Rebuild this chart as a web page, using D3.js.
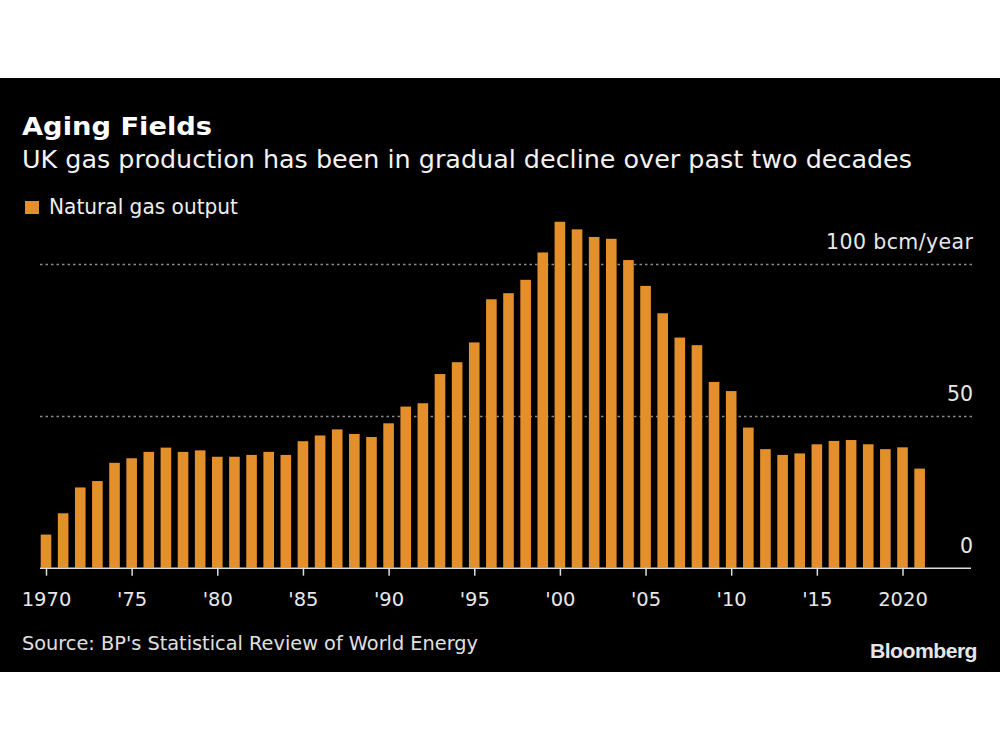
<!DOCTYPE html>
<html>
<head>
<meta charset="utf-8">
<script src="https://cdn.jsdelivr.net/npm/d3@7"></script>
<style>
  html, body { margin: 0; padding: 0; background: #fff; }
  svg { display: block; }
</style>
</head>
<body>
<svg id="chart" width="1000" height="750"></svg>
<script>
const years = d3.range(1970, 2022);
const gasOutput = [
  10.9, 17.9, 26.4, 28.5, 34.5, 36.0, 38.1, 39.5, 38.1, 38.6,
  36.5, 36.5, 37.1, 38.1, 37.1, 41.6, 43.5, 45.5, 44.0, 43.0,
  47.5, 53.0, 54.1, 63.7, 67.6, 74.1, 88.3, 90.3, 94.7, 103.7,
  113.8, 111.3, 108.8, 108.2, 101.2, 92.7, 83.7, 75.7, 73.2, 61.1,
  58.1, 46.1, 39.0, 37.1, 37.6, 40.6, 41.7, 42.0, 40.6, 39.0,
  39.6, 32.6
];
const xTickYears = [1970, 1975, 1980, 1985, 1990, 1995, 2000, 2005, 2010, 2015, 2020];
const xTickLabels = ["1970", "'75", "'80", "'85", "'90", "'95", "'00", "'05", "'10", "'15", "2020"];
const yTickValues = [0, 50, 100];
const yTickLabels = ["0", "50", "100 bcm/year"];

const FONT = "'DejaVu Sans', Verdana, sans-serif";
const BAR = "#e28f2c";

const svg = d3.select("#chart");
svg.append("rect").attr("x", 0).attr("y", 78).attr("width", 1000).attr("height", 594).attr("fill", "#000");

const step = 17.13;
const x = d3.scaleBand()
  .domain(years)
  .range([46 - step / 2, 46 - step / 2 + step * years.length])
  .paddingInner(0.38)
  .paddingOuter(0.19);
const y = d3.scaleLinear().domain([0, 100]).range([567.7, 263.7]);

// Title block
svg.append("text").attr("x", 22).attr("y", 135)
  .attr("font-family", FONT).attr("font-weight", "bold").attr("font-size", 25)
  .attr("fill", "#fff").attr("textLength", 190).attr("lengthAdjust", "spacingAndGlyphs")
  .text("Aging Fields");
svg.append("text").attr("x", 22).attr("y", 168)
  .attr("font-family", FONT).attr("font-size", 24.5)
  .attr("fill", "#f2f2f2").attr("textLength", 890).attr("lengthAdjust", "spacingAndGlyphs")
  .text("UK gas production has been in gradual decline over past two decades");

// Legend
svg.append("rect").attr("x", 25).attr("y", 201).attr("width", 14).attr("height", 13).attr("fill", BAR);
svg.append("text").attr("x", 49).attr("y", 214)
  .attr("font-family", FONT).attr("font-size", 20.5)
  .attr("fill", "#eee").attr("textLength", 189).attr("lengthAdjust", "spacingAndGlyphs")
  .text("Natural gas output");

// Gridlines
svg.append("g").selectAll("line")
  .data(yTickValues.filter(v => v > 0))
  .join("line")
  .attr("x1", 40).attr("x2", 972)
  .attr("y1", d => Math.round(y(d)) + 0.5).attr("y2", d => Math.round(y(d)) + 0.5)
  .attr("stroke", "#8a8a8a").attr("stroke-width", 1.3)
  .attr("stroke-dasharray", "2.5,3");

// Y labels
svg.append("g").selectAll("text")
  .data(yTickValues)
  .join("text")
  .attr("x", 973)
  .attr("y", d => y(d) - 14.5)
  .attr("text-anchor", "end")
  .attr("font-family", FONT).attr("font-size", 20.5)
  .attr("fill", "#e8e8e8")
  .each(function (d, i) {
    if (d === 100) d3.select(this).attr("textLength", 147).attr("lengthAdjust", "spacing");
  })
  .text((d, i) => yTickLabels[i]);

// Bars
svg.append("g").selectAll("rect")
  .data(years.map((yr, i) => ({ yr, v: gasOutput[i] })))
  .join("rect")
  .attr("x", d => x(d.yr))
  .attr("width", x.bandwidth())
  .attr("y", d => y(d.v))
  .attr("height", d => y(0) - y(d.v))
  .attr("fill", BAR);

// X axis
const xAxis = d3.axisBottom(d3.scaleLinear().domain([1970, 1971]).range([46, 46 + step]))
  .tickValues(xTickYears)
  .tickSize(8)
  .tickFormat((d, i) => xTickLabels[i]);
const gx = svg.append("g").attr("transform", `translate(0,${y(0)})`).call(xAxis);
gx.select(".domain").remove();
gx.selectAll(".tick line").attr("stroke", "#ddd").attr("stroke-width", 1.5);
gx.selectAll(".tick text")
  .attr("y", 38).attr("dy", 0)
  .attr("font-family", FONT).attr("font-size", 19.5)
  .attr("fill", "#e8e8e8");
svg.append("line")
  .attr("x1", 40).attr("x2", 971)
  .attr("y1", y(0) + 0.5).attr("y2", y(0) + 0.5)
  .attr("stroke", "#ddd").attr("stroke-width", 1.5);

// Source & brand
svg.append("text").attr("x", 22).attr("y", 650)
  .attr("font-family", FONT).attr("font-size", 19)
  .attr("fill", "#e0e0e0").attr("textLength", 456).attr("lengthAdjust", "spacingAndGlyphs")
  .text("Source: BP's Statistical Review of World Energy");
svg.append("text").attr("x", 977).attr("y", 657.5)
  .attr("text-anchor", "end")
  .attr("font-family", "'Liberation Sans', Arial, sans-serif").attr("font-weight", "bold").attr("font-size", 19.5)
  .attr("fill", "#e6e6e6").attr("textLength", 107).attr("lengthAdjust", "spacingAndGlyphs")
  .attr("letter-spacing", -0.5)
  .text("Bloomberg");
</script>
</body>
</html>
